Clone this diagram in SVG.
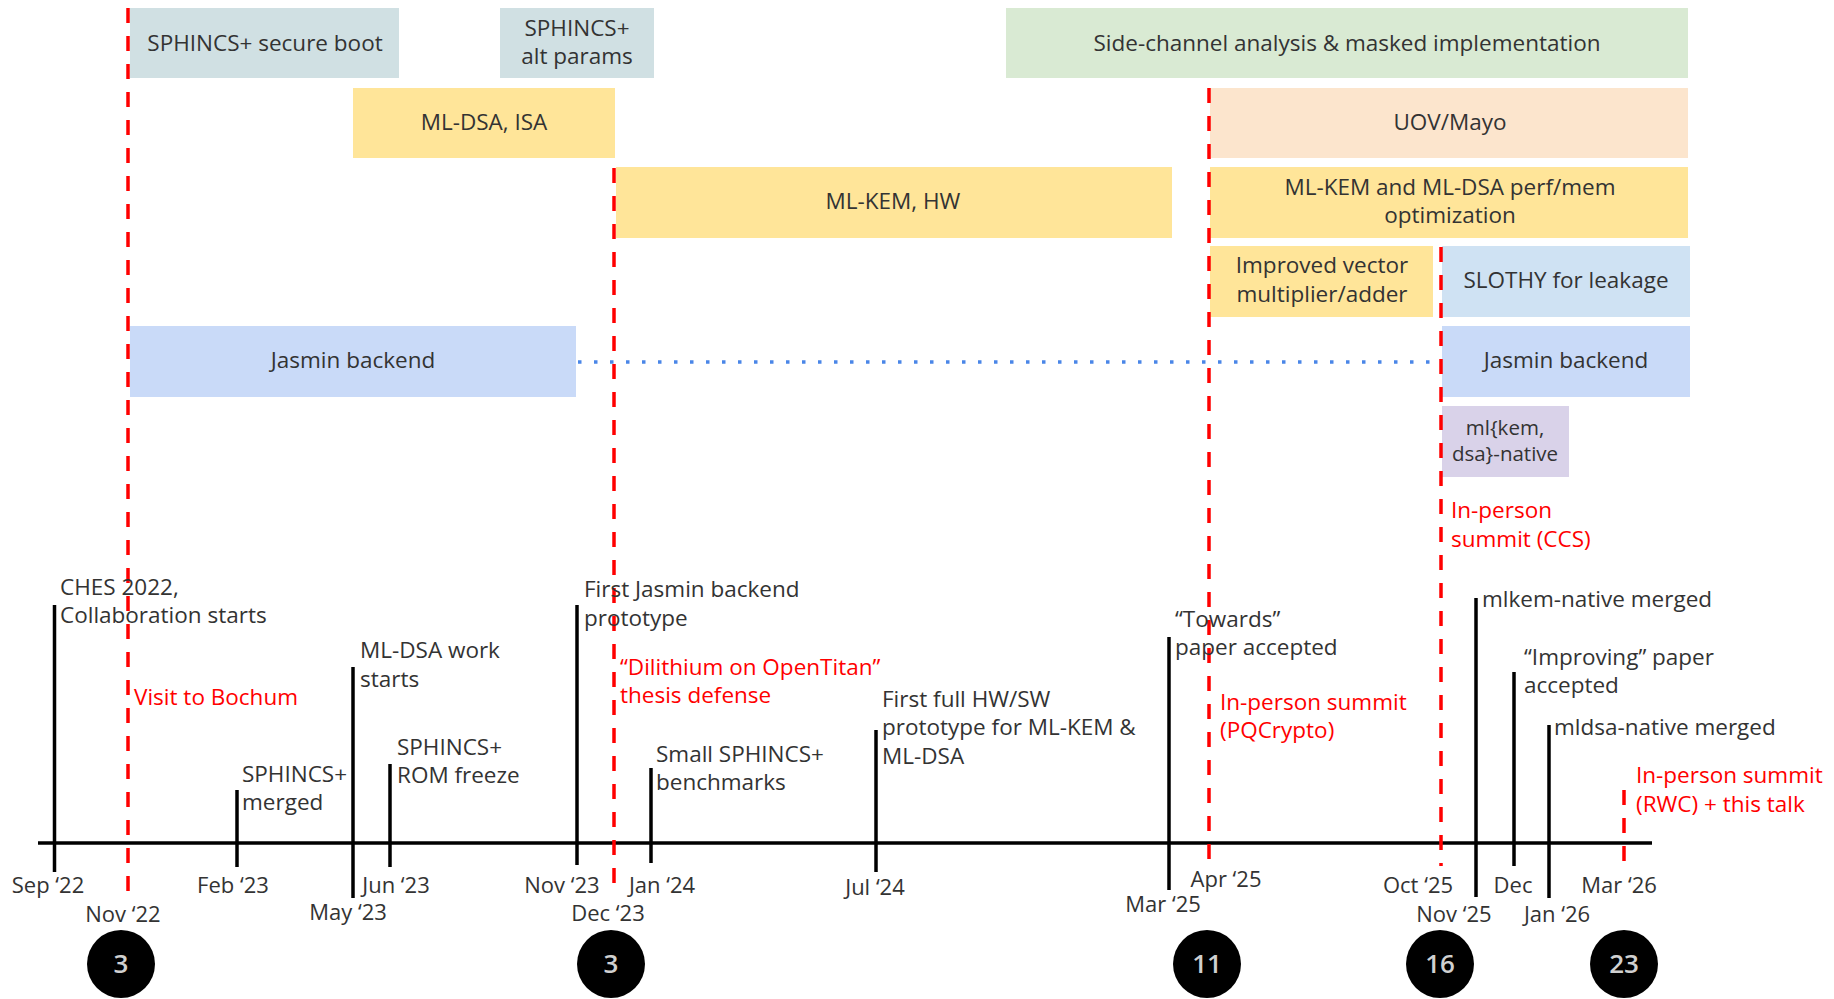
<svg xmlns="http://www.w3.org/2000/svg" width="1834" height="999" viewBox="0 0 1834 999">
<style>
text{font-family:"Open Sans",Lato,"Liberation Sans",sans-serif;font-size:22.5px;fill:#333}
.c{text-anchor:middle}
.r{fill:#ff0000}
.sm{font-size:20.5px}
.d{font-size:22px}
.num{font-size:26px;fill:#d0d0d0;text-anchor:middle;font-weight:600}
.tick{stroke:#000;stroke-width:3.5}
.red{stroke:#ff0000;stroke-width:3.5;stroke-dasharray:15 13;fill:none}
.dot{stroke:#4a86e8;stroke-width:3.5;stroke-dasharray:3.5 12.5;fill:none}
</style>
<rect width="1834" height="999" fill="#fff"/>
<g id="boxes">
<g id="sphincs-secure-boot"><rect x="130" y="8" width="269" height="70" fill="#d0e0e3"/><text class="c" x="265" y="51">SPHINCS+ secure boot</text></g>
<g id="sphincs-alt"><rect x="500" y="8" width="154" height="70" fill="#d0e0e3"/><text class="c" x="577" y="36">SPHINCS+</text><text class="c" x="577" y="64">alt params</text></g>
<g id="side-channel"><rect x="1006" y="8" width="682" height="70" fill="#d9ead3"/><text class="c" x="1347" y="51">Side-channel analysis &amp; masked implementation</text></g>
<g id="mldsa-isa"><rect x="353" y="88" width="262" height="70" fill="#ffe599"/><text class="c" x="484" y="130">ML-DSA, ISA</text></g>
<g id="uov-mayo"><rect x="1210" y="88" width="478" height="70" fill="#fce5cd"/><text class="c" x="1450" y="130">UOV/Mayo</text></g>
<g id="mlkem-hw"><rect x="616" y="167" width="556" height="71" fill="#ffe599"/><text class="c" x="893" y="209">ML-KEM, HW</text></g>
<g id="perf-mem"><rect x="1210" y="167" width="478" height="71" fill="#ffe599"/><text class="c" x="1450" y="195">ML-KEM and ML-DSA perf/mem</text><text class="c" x="1450" y="223">optimization</text></g>
<g id="improved-vector"><rect x="1210" y="246" width="223" height="71" fill="#ffe599"/><text class="c" x="1322" y="273">Improved vector</text><text class="c" x="1322" y="302">multiplier/adder</text></g>
<g id="slothy"><rect x="1442" y="246" width="248" height="71" fill="#cfe2f3"/><text class="c" x="1566" y="288">SLOTHY for leakage</text></g>
<g id="jasmin-left"><rect x="130" y="326" width="446" height="71" fill="#c9daf8"/><text class="c" x="353" y="368">Jasmin backend</text></g>
<g id="jasmin-right"><rect x="1442" y="326" width="248" height="71" fill="#c9daf8"/><text class="c" x="1566" y="368">Jasmin backend</text></g>
<g id="ml-native"><rect x="1442" y="406" width="127" height="71" fill="#d9d2e9"/><text class="c sm" x="1505" y="435">ml{kem,</text><text class="c sm" x="1505" y="461">dsa}-native</text></g>
</g>
<g id="connectors">
<line class="dot" x1="578" y1="362" x2="1438" y2="362"/>
<line x1="38" y1="843" x2="1652" y2="843" stroke="#000" stroke-width="3.5"/>
<line class="tick" x1="54.5" y1="605" x2="54.5" y2="872"/>
<line class="tick" x1="237" y1="790" x2="237" y2="867"/>
<line class="tick" x1="353" y1="667" x2="353" y2="898"/>
<line class="tick" x1="390" y1="764" x2="390" y2="867"/>
<line class="tick" x1="577" y1="605" x2="577" y2="865"/>
<line class="tick" x1="651" y1="768" x2="651" y2="863"/>
<line class="tick" x1="876" y1="730" x2="876" y2="872"/>
<line class="tick" x1="1169" y1="637" x2="1169" y2="890"/>
<line class="tick" x1="1476" y1="598" x2="1476" y2="897"/>
<line class="tick" x1="1514" y1="672" x2="1514" y2="866"/>
<line class="tick" x1="1549" y1="725" x2="1549" y2="898"/>
<line class="red" x1="128" y1="8" x2="128" y2="892"/>
<line class="red" x1="614" y1="168" x2="614" y2="883"/>
<line class="red" x1="1209" y1="88" x2="1209" y2="862"/>
<line class="red" x1="1441" y1="247" x2="1441" y2="866"/>
<line class="red" x1="1624" y1="790" x2="1624" y2="862"/>
</g>
<g id="events">
<g id="ev-ches"><text x="60" y="595">CHES 2022,</text><text x="60" y="623">Collaboration starts</text></g>
<g id="ev-bochum"><text class="r" x="134" y="705">Visit to Bochum</text></g>
<g id="ev-sphincs-merged"><text x="242" y="782">SPHINCS+</text><text x="242" y="810">merged</text></g>
<g id="ev-mldsa-work"><text x="360" y="658">ML-DSA work</text><text x="360" y="687">starts</text></g>
<g id="ev-rom"><text x="397" y="755">SPHINCS+</text><text x="397" y="783">ROM freeze</text></g>
<g id="ev-jasmin-proto"><text x="584" y="597">First Jasmin backend</text><text x="584" y="626">prototype</text></g>
<g id="ev-thesis"><text class="r" x="620" y="675">“Dilithium on OpenTitan”</text><text class="r" x="620" y="703">thesis defense</text></g>
<g id="ev-small"><text x="656" y="762">Small SPHINCS+</text><text x="656" y="790">benchmarks</text></g>
<g id="ev-full"><text x="882" y="707">First full HW/SW</text><text x="882" y="735">prototype for ML-KEM &amp;</text><text x="882" y="764">ML-DSA</text></g>
<g id="ev-towards"><text x="1175" y="627">“Towards”</text><text x="1175" y="655">paper accepted</text></g>
<g id="ev-pqcrypto"><text class="r" x="1220" y="710">In-person summit</text><text class="r" x="1220" y="738">(PQCrypto)</text></g>
<g id="ev-ccs"><text class="r" x="1451" y="518">In-person</text><text class="r" x="1451" y="547">summit (CCS)</text></g>
<g id="ev-mlkem"><text x="1482" y="607">mlkem-native merged</text></g>
<g id="ev-improving"><text x="1524" y="665">“Improving” paper</text><text x="1524" y="693">accepted</text></g>
<g id="ev-mldsa"><text x="1554" y="735">mldsa-native merged</text></g>
<g id="ev-rwc"><text class="r" x="1636" y="783">In-person summit</text><text class="r" x="1636" y="812">(RWC) + this talk</text></g>
</g>
<g id="dates">
<text class="c d" x="48" y="893">Sep ‘22</text>
<text class="c d" x="123" y="922">Nov ‘22</text>
<text class="c d" x="233" y="893">Feb ‘23</text>
<text class="c d" x="348" y="920">May ‘23</text>
<text class="c d" x="396" y="893">Jun ‘23</text>
<text class="c d" x="562" y="893">Nov ‘23</text>
<text class="c d" x="608" y="921">Dec ‘23</text>
<text class="c d" x="662" y="893">Jan ‘24</text>
<text class="c d" x="875" y="895">Jul ‘24</text>
<text class="c d" x="1226" y="887">Apr ‘25</text>
<text class="c d" x="1163" y="912">Mar ‘25</text>
<text class="c d" x="1418" y="893">Oct ‘25</text>
<text class="c d" x="1454" y="922">Nov ‘25</text>
<text class="c d" x="1513" y="893">Dec</text>
<text class="c d" x="1557" y="922">Jan ‘26</text>
<text class="c d" x="1619" y="893">Mar ‘26</text>
</g>
<g id="counts">
<g id="count-1"><circle cx="121" cy="964" r="34" fill="#000"/><text class="num" x="121" y="973">3</text></g>
<g id="count-2"><circle cx="611" cy="964" r="34" fill="#000"/><text class="num" x="611" y="973">3</text></g>
<g id="count-3"><circle cx="1207" cy="964" r="34" fill="#000"/><text class="num" x="1207" y="973">11</text></g>
<g id="count-4"><circle cx="1440" cy="964" r="34" fill="#000"/><text class="num" x="1440" y="973">16</text></g>
<g id="count-5"><circle cx="1624" cy="964" r="34" fill="#000"/><text class="num" x="1624" y="973">23</text></g>
</g>
</svg>
